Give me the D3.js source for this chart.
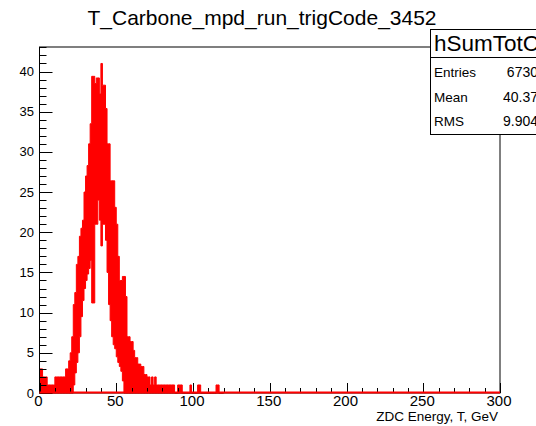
<!DOCTYPE html>
<html>
<head>
<meta charset="utf-8">
<script src="https://cdn.jsdelivr.net/npm/d3@7"></script>
<style>
  body { margin: 0; background: #fff; overflow: hidden; }
  svg { display: block; }
  text { font-family: "Liberation Sans", Arial, Helvetica, sans-serif; fill: #000; }
</style>
</head>
<body>
<svg id="chart" width="536" height="426"></svg>
<script>
// ZDC energy histogram: per 1 GeV slice, the lowest and highest bin content
// of the fine-binned histogram (the band the step line sweeps through).
const binLow = d3.range(0, 120);
const upper = [
  3, 3, 2, 2, 2, 1, 1, 1, 1, 1,
  2, 2, 2, 2, 2, 2, 2, 3, 3, 4,
  5, 7, 11, 12.5, 16, 17, 19.5, 20.5, 21.5, 25,
  27, 28.3, 31, 33.5, 39.4, 39.4, 38.5, 39.2, 39.2, 37.2,
  41, 38.3, 38.3, 35.4, 31, 31, 26.4, 26.4, 26.4, 23.1,
  21, 17, 14, 14, 14.5, 14.5, 12, 7, 7, 6.4,
  6.4, 5.3, 4.4, 4.4, 3.6, 3.6, 3.3, 3.3, 2.3, 2.3,
  2, 2, 1, 2, 1, 2, 1, 1, 1, 1,
  1, 1, 1, 1, 1, 1, 1, 1, 0, 0,
  1, 1, 1, 0, 0, 0, 0, 0, 1, 0,
  0, 0, 0, 1, 1, 0, 0, 0, 0, 0,
  0, 0, 0, 0, 0, 1, 1, 0, 0, 0
];
const lower = [
  0, 0, 0, 0, 0, 0, 0, 0, 0, 0,
  0, 0, 0, 0, 0, 0, 0, 0, 0, 0,
  0, 0, 1, 2.5, 3.8, 5, 7, 9.5, 11.5, 13,
  14, 14.8, 15.5, 16.5, 11.2, 11.2, 21, 21, 24, 21.5,
  18.3, 21, 21, 19, 15, 11, 9, 7, 6, 5.5,
  4.5, 3.8, 3.3, 2.7, 1.5, 0, 0, 0, 0, 0,
  0, 0, 0, 0, 0, 0, 0, 0, 0, 0,
  0, 0, 0, 0, 0, 0, 0, 0, 0, 0,
  0, 0, 0, 0, 0, 0, 0, 0, 0, 0,
  0, 0, 0, 0, 0, 0, 0, 0, 0, 0,
  0, 0, 0, 0, 0, 0, 0, 0, 0, 0,
  0, 0, 0, 0, 0, 0, 0, 0, 0, 0
];
const xTickValues = [0, 50, 100, 150, 200, 250, 300];
const yTickValues = [0, 5, 10, 15, 20, 25, 30, 35, 40];
const statNames = ["Entries", "Mean", "RMS"];
const statValues = ["6730", "40.37", "9.904"];
const histName = "hSumTotC";
const titleText = "T_Carbone_mpd_run_trigCode_3452";
const xTitle = "ZDC Energy, T, GeV";

const svg = d3.select("#chart");
const frame = { left: 39.5, right: 500, top: 47, bottom: 393 };
const yMax = 41 * 1.05;

const x = d3.scaleLinear().domain([0, 300]).range([frame.left, frame.right]);
const y = d3.scaleLinear().domain([0, yMax]).range([frame.bottom, frame.top]);

// Title
svg.append("text")
  .attr("x", 262).attr("y", 25)
  .attr("text-anchor", "middle")
  .style("font-size", "21px")
  .text(titleText);

// Histogram band
const bins = binLow.map((b, i) => ({ x: b, lo: lower[i], hi: upper[i] }));
bins.push({ x: binLow[binLow.length - 1] + 1, lo: 0, hi: 0 });
const area = d3.area()
  .x(d => x(d.x))
  .y0(d => y(d.lo))
  .y1(d => y(d.hi))
  .curve(d3.curveStepAfter);
svg.append("path")
  .attr("d", area(bins))
  .attr("fill", "#ff0000")
  .attr("stroke", "#ff0000")
  .attr("stroke-width", 1);

// Frame
svg.append("rect")
  .attr("x", frame.left).attr("y", frame.top)
  .attr("width", frame.right - frame.left)
  .attr("height", frame.bottom - frame.top)
  .attr("fill", "none").attr("stroke", "#000").attr("stroke-width", 1);

// Y axis ticks (inside the frame)
const yMinor = d3.range(0, 44, 1);
svg.append("g").selectAll("line").data(yMinor).join("line")
  .attr("x1", frame.left).attr("x2", d => frame.left + (d % 5 === 0 ? 13 : 7))
  .attr("y1", d => Math.round(y(d)) + 0.5).attr("y2", d => Math.round(y(d)) + 0.5)
  .attr("stroke", "#000").attr("stroke-width", 1);
svg.append("g").selectAll("text").data(yTickValues).join("text")
  .attr("x", 34).attr("y", d => y(d) + 4.5)
  .attr("text-anchor", "end")
  .style("font-size", "13px")
  .text(d => d);

// X axis ticks (inside the frame)
const xMinor = d3.range(0, 301, 10);
svg.append("g").selectAll("line").data(xMinor).join("line")
  .attr("x1", d => Math.round(x(d)) + 0.5).attr("x2", d => Math.round(x(d)) + 0.5)
  .attr("y1", frame.bottom).attr("y2", d => frame.bottom - (d % 50 === 0 ? 10 : 5))
  .attr("stroke", "#000").attr("stroke-width", 1);
svg.append("g").selectAll("text").data(xTickValues).join("text")
  .attr("x", d => x(d) - 1).attr("y", 406)
  .attr("text-anchor", "middle")
  .style("font-size", "15px")
  .text(d => d);

// Empty bins along the zero line
svg.append("line")
  .attr("x1", x(0)).attr("x2", x(300))
  .attr("y1", y(0) - 0.5).attr("y2", y(0) - 0.5)
  .attr("stroke", "#ff0000").attr("stroke-width", 2);

// X axis title
svg.append("text")
  .attr("x", 498).attr("y", 421)
  .attr("text-anchor", "end")
  .style("font-size", "13.5px")
  .text(xTitle);

// Statistics box
const box = { x: 430.5, y: 29.5, w: 130, h: 105, sep: 57.5 };
svg.append("rect")
  .attr("x", box.x).attr("y", box.y).attr("width", box.w).attr("height", box.h)
  .attr("fill", "#fff").attr("stroke", "#000").attr("stroke-width", 1);
svg.append("line")
  .attr("x1", box.x).attr("x2", box.x + box.w)
  .attr("y1", box.sep).attr("y2", box.sep)
  .attr("stroke", "#000").attr("stroke-width", 1);
svg.append("text")
  .attr("x", 434).attr("y", 51)
  .style("font-size", "22.5px")
  .text(histName);
const rowY = [77, 102, 126];
svg.append("g").selectAll("text").data(statNames).join("text")
  .attr("x", 434).attr("y", (d, i) => rowY[i])
  .style("font-size", "13.5px")
  .text(d => d);
svg.append("g").selectAll("text").data(statValues).join("text")
  .attr("x", 538).attr("y", (d, i) => rowY[i])
  .attr("text-anchor", "end")
  .style("font-size", "14px")
  .text(d => d);
</script>
</body>
</html>
